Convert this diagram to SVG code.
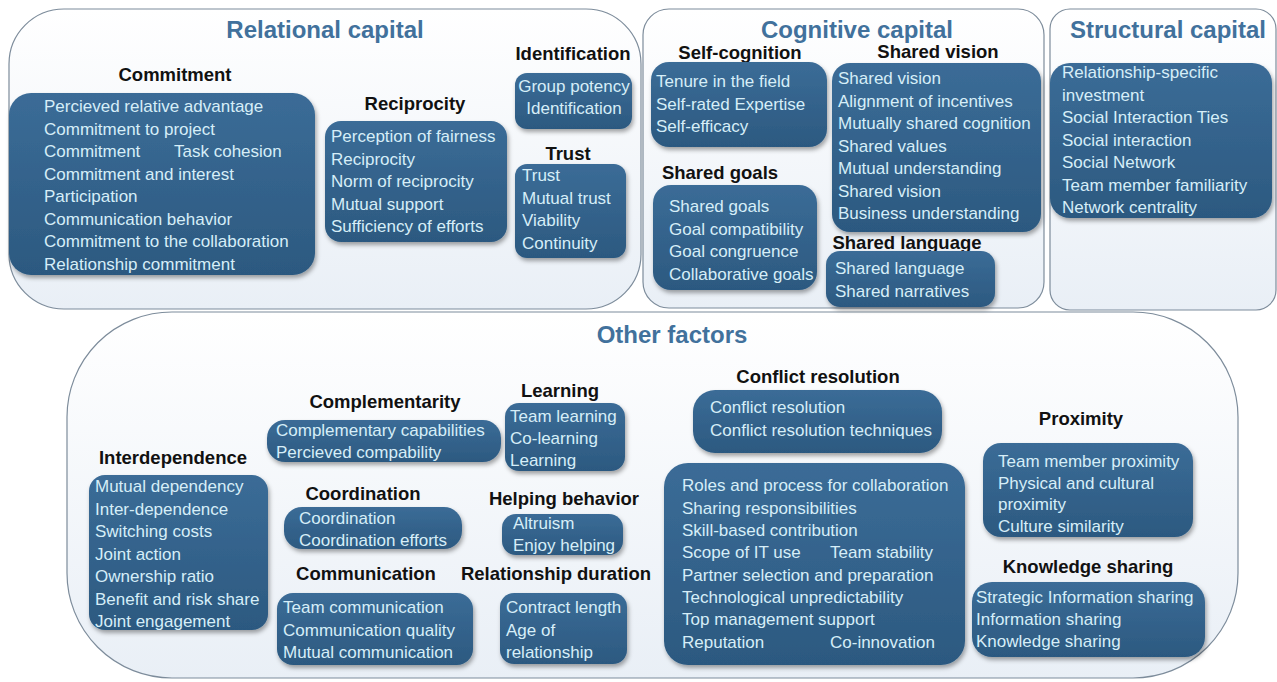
<svg xmlns="http://www.w3.org/2000/svg" width="1277" height="682" viewBox="0 0 1277 682">
<defs>
<linearGradient id="bg" x1="0" y1="0" x2="0" y2="1"><stop offset="0" stop-color="#ffffff"/><stop offset="1" stop-color="#e9eff6"/></linearGradient>
<linearGradient id="bx" x1="0" y1="0" x2="0" y2="1"><stop offset="0" stop-color="#3b6c97"/><stop offset="1" stop-color="#2c5980"/></linearGradient>
<filter id="sh" x="-10%" y="-10%" width="120%" height="130%"><feDropShadow dx="1.5" dy="3" stdDeviation="2" flood-color="#000" flood-opacity="0.35"/></filter>
<style>
.cont{fill:url(#bg);stroke:#7d8c9b;stroke-width:1.2}
.box{fill:url(#bx);filter:url(#sh)}
.t{font-family:"Liberation Sans",Arial,sans-serif;font-size:17px;fill:#d6eef8}
.h{font-family:"Liberation Sans",Arial,sans-serif;font-size:18.5px;font-weight:bold;fill:#111}
.ti{font-family:"Liberation Sans",Arial,sans-serif;font-size:24px;font-weight:bold;fill:#41719c}
.c{text-anchor:middle}
</style>
</defs>
<rect width="1277" height="682" fill="#ffffff"/>

<g id="relational">
<rect class="cont" x="9" y="9" width="632" height="300" rx="55"/>
<text class="ti c" x="325" y="38">Relational capital</text>
</g>
<g id="cognitive">
<rect class="cont" x="643" y="9" width="401" height="299" rx="26"/>
<text class="ti c" x="857" y="38">Cognitive capital</text>
</g>
<g id="structural">
<rect class="cont" x="1050" y="9" width="226" height="301" rx="20"/>
<text class="ti c" x="1168" y="38">Structural capital</text>
</g>
<g id="other">
<rect class="cont" x="67" y="312" width="1171" height="366" rx="105"/>
<text class="ti c" x="672" y="343">Other factors</text>
</g>

<g id="commitment">
<text class="h c" x="175" y="81">Commitment</text>
<rect class="box" x="9" y="93" width="306" height="182" rx="22"/>
<text class="t" x="44" y="112">Percieved relative advantage</text>
<text class="t" x="44" y="134.5">Commitment to project</text>
<text class="t" x="44" y="157">Commitment</text>
<text class="t" x="174" y="157">Task cohesion</text>
<text class="t" x="44" y="179.5">Commitment and interest</text>
<text class="t" x="44" y="202">Participation</text>
<text class="t" x="44" y="224.5">Communication behavior</text>
<text class="t" x="44" y="247">Commitment to the collaboration</text>
<text class="t" x="44" y="269.5">Relationship commitment</text>
</g>

<g id="reciprocity">
<text class="h c" x="415" y="110">Reciprocity</text>
<rect class="box" x="325" y="121" width="182" height="121" rx="16"/>
<text class="t" x="331" y="142">Perception of fairness</text>
<text class="t" x="331" y="164.5">Reciprocity</text>
<text class="t" x="331" y="187">Norm of reciprocity</text>
<text class="t" x="331" y="209.5">Mutual support</text>
<text class="t" x="331" y="232">Sufficiency of efforts</text>
</g>

<g id="identification">
<text class="h c" x="573" y="60">Identification</text>
<rect class="box" x="515" y="73" width="117" height="56" rx="12"/>
<text class="t c" x="574" y="92">Group potency</text>
<text class="t c" x="574" y="114">Identification</text>
</g>

<g id="trust">
<text class="h c" x="568" y="160">Trust</text>
<rect class="box" x="515" y="164" width="111" height="94" rx="12"/>
<text class="t" x="522" y="181">Trust</text>
<text class="t" x="522" y="203.5">Mutual trust</text>
<text class="t" x="522" y="226">Viability</text>
<text class="t" x="522" y="248.5">Continuity</text>
</g>

<g id="self-cognition">
<text class="h c" x="740" y="59">Self-cognition</text>
<rect class="box" x="651" y="62" width="176" height="85" rx="18"/>
<text class="t" x="656" y="87">Tenure in the field</text>
<text class="t" x="656" y="109.5">Self-rated Expertise</text>
<text class="t" x="656" y="132">Self-efficacy</text>
</g>

<g id="shared-vision">
<text class="h c" x="938" y="58">Shared vision</text>
<rect class="box" x="832" y="63" width="209" height="169" rx="18"/>
<text class="t" x="838" y="84">Shared vision</text>
<text class="t" x="838" y="106.5">Alignment of incentives</text>
<text class="t" x="838" y="129">Mutually shared cognition</text>
<text class="t" x="838" y="151.5">Shared values</text>
<text class="t" x="838" y="174">Mutual understanding</text>
<text class="t" x="838" y="196.5">Shared vision</text>
<text class="t" x="838" y="219">Business understanding</text>
</g>

<g id="shared-goals">
<text class="h c" x="720" y="179">Shared goals</text>
<rect class="box" x="653" y="185" width="164" height="105" rx="18"/>
<text class="t" x="669" y="212">Shared goals</text>
<text class="t" x="669" y="234.5">Goal compatibility</text>
<text class="t" x="669" y="257">Goal congruence</text>
<text class="t" x="669" y="279.5">Collaborative goals</text>
</g>

<g id="shared-language">
<text class="h c" x="907" y="249">Shared language</text>
<rect class="box" x="826" y="251" width="169" height="56" rx="14"/>
<text class="t" x="835" y="274">Shared language</text>
<text class="t" x="835" y="296.5">Shared narratives</text>
</g>

<g id="structural-items">
<rect class="box" x="1050" y="63" width="222" height="155" rx="20"/>
<text class="t" x="1062" y="78">Relationship-specific</text>
<text class="t" x="1062" y="100.5">investment</text>
<text class="t" x="1062" y="123">Social Interaction Ties</text>
<text class="t" x="1062" y="145.5">Social interaction</text>
<text class="t" x="1062" y="168">Social Network</text>
<text class="t" x="1062" y="190.5">Team member familiarity</text>
<text class="t" x="1062" y="213">Network centrality</text>
</g>

<g id="interdependence">
<text class="h c" x="173" y="464">Interdependence</text>
<rect class="box" x="89" y="475" width="179" height="155" rx="16"/>
<text class="t" x="95" y="492">Mutual dependency</text>
<text class="t" x="95" y="514.5">Inter-dependence</text>
<text class="t" x="95" y="537">Switching costs</text>
<text class="t" x="95" y="559.5">Joint action</text>
<text class="t" x="95" y="582">Ownership ratio</text>
<text class="t" x="95" y="604.5">Benefit and risk share</text>
<text class="t" x="95" y="627">Joint engagement</text>
</g>

<g id="complementarity">
<text class="h c" x="385" y="408">Complementarity</text>
<rect class="box" x="267" y="420" width="234" height="42" rx="18"/>
<text class="t" x="276" y="436">Complementary capabilities</text>
<text class="t" x="276" y="458">Percieved compability</text>
</g>

<g id="coordination">
<text class="h c" x="363" y="500">Coordination</text>
<rect class="box" x="284" y="507" width="178" height="42" rx="18"/>
<text class="t" x="299" y="524">Coordination</text>
<text class="t" x="299" y="546">Coordination efforts</text>
</g>

<g id="communication">
<text class="h c" x="366" y="580">Communication</text>
<rect class="box" x="277" y="593" width="196" height="72" rx="16"/>
<text class="t" x="283" y="613">Team communication</text>
<text class="t" x="283" y="635.5">Communication quality</text>
<text class="t" x="283" y="658">Mutual communication</text>
</g>

<g id="learning">
<text class="h c" x="560" y="397">Learning</text>
<rect class="box" x="505" y="403" width="120" height="68" rx="14"/>
<text class="t" x="510" y="422">Team learning</text>
<text class="t" x="510" y="444">Co-learning</text>
<text class="t" x="510" y="466">Learning</text>
</g>

<g id="helping-behavior">
<text class="h c" x="564" y="505">Helping behavior</text>
<rect class="box" x="502" y="514" width="121" height="41" rx="14"/>
<text class="t" x="513" y="529">Altruism</text>
<text class="t" x="513" y="551">Enjoy helping</text>
</g>

<g id="relationship-duration">
<text class="h c" x="556" y="580">Relationship duration</text>
<rect class="box" x="500" y="593" width="127" height="71" rx="14"/>
<text class="t" x="506" y="613">Contract length</text>
<text class="t" x="506" y="635.5">Age of</text>
<text class="t" x="506" y="658">relationship</text>
</g>

<g id="conflict-resolution">
<text class="h c" x="818" y="383">Conflict resolution</text>
<rect class="box" x="693" y="390" width="249" height="63" rx="22"/>
<text class="t" x="710" y="413">Conflict resolution</text>
<text class="t" x="710" y="436">Conflict resolution techniques</text>
</g>

<g id="collaboration-factors">
<rect class="box" x="664" y="463" width="301" height="202" rx="24"/>
<text class="t" x="682" y="491">Roles and process for collaboration</text>
<text class="t" x="682" y="513.5">Sharing responsibilities</text>
<text class="t" x="682" y="536">Skill-based contribution</text>
<text class="t" x="682" y="558">Scope of IT use</text>
<text class="t" x="830" y="558">Team stability</text>
<text class="t" x="682" y="580.5">Partner selection and preparation</text>
<text class="t" x="682" y="603">Technological unpredictability</text>
<text class="t" x="682" y="625">Top management support</text>
<text class="t" x="682" y="647.5">Reputation</text>
<text class="t" x="830" y="647.5">Co-innovation</text>
</g>

<g id="proximity">
<text class="h c" x="1081" y="425">Proximity</text>
<rect class="box" x="983" y="443" width="210" height="94" rx="18"/>
<text class="t" x="998" y="467">Team member proximity</text>
<text class="t" x="998" y="488.5">Physical and cultural</text>
<text class="t" x="998" y="510">proximity</text>
<text class="t" x="998" y="531.5">Culture similarity</text>
</g>

<g id="knowledge-sharing">
<text class="h c" x="1088" y="573">Knowledge sharing</text>
<rect class="box" x="972" y="582" width="233" height="75" rx="20"/>
<text class="t" x="976" y="603">Strategic Information sharing</text>
<text class="t" x="976" y="625">Information sharing</text>
<text class="t" x="976" y="647">Knowledge sharing</text>
</g>

<g id="connectors"></g>
</svg>
